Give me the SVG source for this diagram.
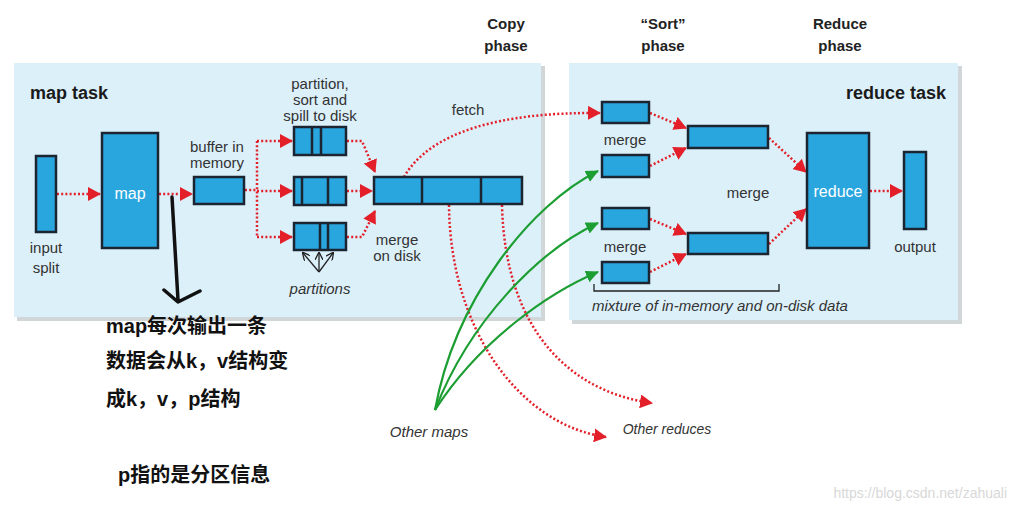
<svg xmlns="http://www.w3.org/2000/svg" width="1017" height="510" viewBox="0 0 1017 510">
<defs>
<style>
.panel{fill:#dcf0fa;stroke:none}
.shadow{fill:#9aa3aa;opacity:0.45}
.box{fill:#2aa6de;stroke:#1b2430;stroke-width:2.5}
.div{stroke:#1b2430;stroke-width:2.5}
.dot{fill:none;stroke:#e3202a;stroke-width:2.5;stroke-dasharray:2 2.2}
.grn{fill:none;stroke:#1c9e33;stroke-width:2.2}
.lbl{font-family:"Liberation Sans",Arial,sans-serif;font-size:15px;fill:#333;text-anchor:middle}
.it{font-style:italic}
.ttl{font-family:"Liberation Sans",Arial,sans-serif;font-size:15px;font-weight:bold;fill:#222;text-anchor:middle}
.big{font-family:"Liberation Sans",Arial,sans-serif;font-size:18px;font-weight:bold;fill:#1a1a1a}
.wt{font-family:"Liberation Sans",Arial,sans-serif;font-size:16px;fill:#fff;text-anchor:middle}
.cn{font-family:"Liberation Sans","Noto Sans CJK SC",sans-serif;font-size:20px;font-weight:bold;fill:#111}
</style>
<marker id="ar" markerUnits="userSpaceOnUse" markerWidth="14" markerHeight="14" refX="12" refY="7" orient="auto" viewBox="0 0 14 14">
<path d="M0,0 L13,7 L0,14 z" fill="#e3202a"/>
</marker>
<marker id="ag" markerUnits="userSpaceOnUse" markerWidth="14" markerHeight="14" refX="12" refY="7" orient="auto" viewBox="0 0 14 14">
<path d="M0,1 L13,7 L0,13 z" fill="#1c9e33"/>
</marker>
<marker id="ak" markerUnits="userSpaceOnUse" markerWidth="8" markerHeight="8" refX="7" refY="4" orient="auto" viewBox="0 0 8 8">
<path d="M0,0 L8,4 L0,8" fill="none" stroke="#222" stroke-width="1.3"/>
</marker>
</defs>
<rect width="1017" height="510" fill="#fff"/>

<g id="titles">
<text class="ttl" x="506" y="29">Copy</text>
<text class="ttl" x="506" y="51">phase</text>
<text class="ttl" x="663" y="29">“Sort”</text>
<text class="ttl" x="663" y="51">phase</text>
<text class="ttl" x="840" y="29">Reduce</text>
<text class="ttl" x="840" y="51">phase</text>
</g>

<g id="map-task">
<rect class="shadow" x="17" y="66" width="528" height="255"/>
<rect class="panel" x="14" y="63" width="527" height="254"/>
<text class="big" x="30" y="99">map task</text>
</g>
<g id="reduce-task">
<rect class="shadow" x="572" y="66" width="390" height="258"/>
<rect class="panel" x="569" y="63" width="389" height="257"/>
<text class="big" x="946" y="99" style="text-anchor:end">reduce task</text>
</g>

<g id="connectors">
<line class="dot" x1="57" y1="194" x2="100" y2="194" marker-end="url(#ar)"/>
<line class="dot" x1="159" y1="194" x2="192" y2="194" marker-end="url(#ar)"/>
<line class="dot" x1="245" y1="190" x2="257" y2="190"/>
<line class="dot" x1="257" y1="141" x2="257" y2="237"/>
<line class="dot" x1="257" y1="141" x2="292" y2="141" marker-end="url(#ar)"/>
<line class="dot" x1="257" y1="191" x2="292" y2="191" marker-end="url(#ar)"/>
<line class="dot" x1="257" y1="237" x2="292" y2="237" marker-end="url(#ar)"/>
<path class="dot" d="M347,141 L362,141 L375,172" marker-end="url(#ar)"/>
<line class="dot" x1="347" y1="191" x2="372" y2="191" marker-end="url(#ar)"/>
<path class="dot" d="M347,237 L362,237 L375,211" marker-end="url(#ar)"/>
<path class="dot" d="M404,177 C430,132 500,112 600,113" marker-end="url(#ar)"/>
<path class="dot" d="M449,205 C450,330 520,425 606,437" marker-end="url(#ar)"/>
<path class="dot" d="M502,205 C505,330 570,392 652,403" marker-end="url(#ar)"/>
<line class="dot" x1="650" y1="113" x2="686" y2="128" marker-end="url(#ar)"/>
<line class="dot" x1="650" y1="166" x2="686" y2="148" marker-end="url(#ar)"/>
<line class="dot" x1="650" y1="219" x2="686" y2="234" marker-end="url(#ar)"/>
<line class="dot" x1="650" y1="272" x2="686" y2="254" marker-end="url(#ar)"/>
<line class="dot" x1="769" y1="138" x2="806" y2="172" marker-end="url(#ar)"/>
<line class="dot" x1="769" y1="244" x2="806" y2="209" marker-end="url(#ar)"/>
<line class="dot" x1="870" y1="191" x2="902" y2="191" marker-end="url(#ar)"/>
<path class="grn" d="M435,410 C455,300 530,205 598,171" marker-end="url(#ag)"/>
<path class="grn" d="M435,410 C470,320 540,250 598,223" marker-end="url(#ag)"/>
<path class="grn" d="M435,410 C480,340 550,292 598,272" marker-end="url(#ag)"/>
<g fill="none" stroke="#222" stroke-width="1.3">
<line x1="319" y1="272" x2="303" y2="253" marker-end="url(#ak)"/>
<line x1="319" y1="272" x2="319" y2="253" marker-end="url(#ak)"/>
<line x1="319" y1="272" x2="333" y2="253" marker-end="url(#ak)"/>
<path d="M594,284 L594,291 L779,291 L779,284"/>
</g>
<path d="M172,197 L178,300 M164,290 L178,302 L200,291" fill="none" stroke="#111" stroke-width="3.5" stroke-linejoin="round" stroke-linecap="round"/>
</g>

<g id="input-split">
<rect class="box" x="36" y="156" width="20" height="76"/>
<text class="lbl" x="46" y="253">input</text>
<text class="lbl" x="46" y="273">split</text>
</g>
<g id="map">
<rect class="box" x="102" y="133" width="56" height="115"/>
<text class="wt" x="130" y="199">map</text>
</g>
<g id="buffer">
<rect class="box" x="194" y="177" width="50" height="27"/>
<text class="lbl" x="217" y="152">buffer in</text>
<text class="lbl" x="217" y="168">memory</text>
</g>
<g id="spills">
<text class="lbl" x="320" y="89">partition,</text>
<text class="lbl" x="320" y="105">sort and</text>
<text class="lbl" x="320" y="121">spill to disk</text>
<rect class="box" x="294" y="127" width="52" height="28"/>
<line class="div" x1="312" y1="127" x2="312" y2="155"/>
<line class="div" x1="321" y1="127" x2="321" y2="155"/>
<rect class="box" x="294" y="177" width="52" height="28"/>
<line class="div" x1="302" y1="177" x2="302" y2="205"/>
<line class="div" x1="328" y1="177" x2="328" y2="205"/>
<rect class="box" x="294" y="223" width="52" height="27"/>
<line class="div" x1="320" y1="223" x2="320" y2="250"/>
<line class="div" x1="328" y1="223" x2="328" y2="250"/>
<text class="lbl it" x="320" y="294">partitions</text>
</g>
<g id="merge-on-disk">
<rect class="box" x="374" y="177" width="148" height="27"/>
<line class="div" x1="422" y1="177" x2="422" y2="204"/>
<line class="div" x1="481" y1="177" x2="481" y2="204"/>
<text class="lbl" x="397" y="245">merge</text>
<text class="lbl" x="397" y="261">on disk</text>
<text class="lbl" x="468" y="115">fetch</text>
</g>
<g id="reduce-merges">
<rect class="box" x="602" y="102" width="47" height="21"/>
<rect class="box" x="602" y="155" width="47" height="22"/>
<rect class="box" x="602" y="208" width="47" height="21"/>
<rect class="box" x="602" y="262" width="47" height="21"/>
<text class="lbl" x="625" y="145">merge</text>
<text class="lbl" x="625" y="252">merge</text>
<rect class="box" x="688" y="126" width="80" height="22"/>
<rect class="box" x="688" y="233" width="80" height="21"/>
<text class="lbl" x="748" y="198">merge</text>
<text class="lbl it" x="592" y="311" style="text-anchor:start;font-size:15px">mixture of in-memory and on-disk data</text>
</g>
<g id="reduce">
<rect class="box" x="807" y="133" width="62" height="115"/>
<text class="wt" x="838" y="197">reduce</text>
</g>
<g id="output">
<rect class="box" x="904" y="152" width="22" height="77"/>
<text class="lbl" x="915" y="252">output</text>
</g>
<g id="others">
<text class="lbl it" x="429" y="437">Other maps</text>
<text class="lbl it" x="667" y="434" style="font-size:14px">Other reduces</text>
</g>
<g id="notes">
<text class="cn" x="106" y="333">map每次输出一条</text>
<text class="cn" x="106" y="368">数据会从k，v结构变</text>
<text class="cn" x="106" y="406">成k，v，p结构</text>
<text class="cn" x="118" y="482">p指的是分区信息</text>
<text x="1007" y="498" text-anchor="end" font-family="Liberation Sans,Arial,sans-serif" font-size="14" fill="#d8d8d8">https://blog.csdn.net/zahuali</text>
</g>
</svg>
